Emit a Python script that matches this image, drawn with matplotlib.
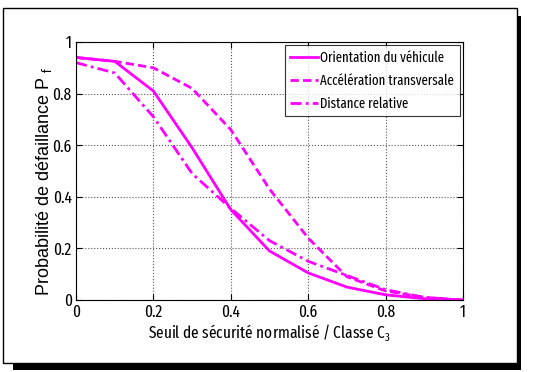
import matplotlib
matplotlib.use("Agg")
import matplotlib.pyplot as plt
from matplotlib.patches import Rectangle

narrow = ['Fira Sans Extra Condensed', 'Roboto Condensed', 'Liberation Sans', 'DejaVu Sans']
plt.rcParams['font.family'] = narrow
plt.rcParams['mathtext.fontset'] = 'custom'
plt.rcParams['mathtext.rm'] = 'Fira Sans Extra Condensed'

seuil = [0.0, 0.1, 0.2, 0.3, 0.4, 0.5, 0.6, 0.7, 0.8, 0.9, 1.0]
orientation = [0.94, 0.925, 0.81, 0.59, 0.35, 0.19, 0.105, 0.05, 0.02, 0.005, 0.0]
acceleration = [0.94, 0.925, 0.90, 0.82, 0.66, 0.43, 0.24, 0.09, 0.035, 0.01, 0.0]
distance = [0.92, 0.88, 0.71, 0.49, 0.355, 0.23, 0.15, 0.095, 0.04, 0.01, 0.0]

labels = ["Orientation du véhicule", "Accélération transversale", "Distance relative"]
ticks = [0, 0.2, 0.4, 0.6, 0.8, 1]
tick_labels = ["0", "0.2", "0.4", "0.6", "0.8", "1"]

W, H = 555, 372
fig = plt.figure(figsize=(W / 100, H / 100), dpi=100)

# cadre avec ombre
fig.patches.append(Rectangle((13 / W, 2 / H), 508 / W, 354 / H, transform=fig.transFigure,
                             facecolor='black', edgecolor='none', zorder=0))
fig.patches.append(Rectangle((3 / W, 9 / H), 514 / W, 355 / H, transform=fig.transFigure,
                             facecolor='white', edgecolor='black', linewidth=1, zorder=1))

ax = fig.add_axes([76 / W, 1 - 300 / H, 387 / W, 258 / H])
ax.set_zorder(2)

color = '#ff00ff'
ax.plot(seuil, orientation, color=color, lw=2, ls='-', label=labels[0])
ax.plot(seuil, acceleration, color=color, lw=2, ls=(0, (3, 1.5)), label=labels[1])
ax.plot(seuil, distance, color=color, lw=2, ls=(0, (4, 1.5, 1, 1.5)), label=labels[2])

ax.set_xlim(0, 1)
ax.set_ylim(0, 1)
ax.set_xticks(ticks)
ax.set_xticklabels(tick_labels)
ax.set_yticks(ticks)
ax.set_yticklabels(tick_labels)
ax.tick_params(direction='in', labelsize=12, length=4, top=True, right=True, pad=3)
ax.grid(True, ls=':', color='#555555', lw=0.8)
for s in ax.spines.values():
    s.set_linewidth(0.8)

ax.set_xlabel(r"Seuil de sécurité normalisé / Classe C$_{3}$", fontsize=12, labelpad=1)
ax.set_ylabel(r"Probabilité de défaillance P $_{\mathrm{f}}$", fontsize=13,
              family=['Liberation Sans', 'DejaVu Sans'])
ax.yaxis.set_label_coords(-0.057, 0.46)

leg = ax.legend(loc='upper right', fontsize=10, frameon=True, fancybox=False,
                borderaxespad=0.25, handlelength=2.0, handletextpad=0.15, labelspacing=0.6,
                borderpad=0.4)
leg.get_frame().set_edgecolor('black')
leg.get_frame().set_linewidth(0.8)

fig.savefig("out.png", dpi=100)
